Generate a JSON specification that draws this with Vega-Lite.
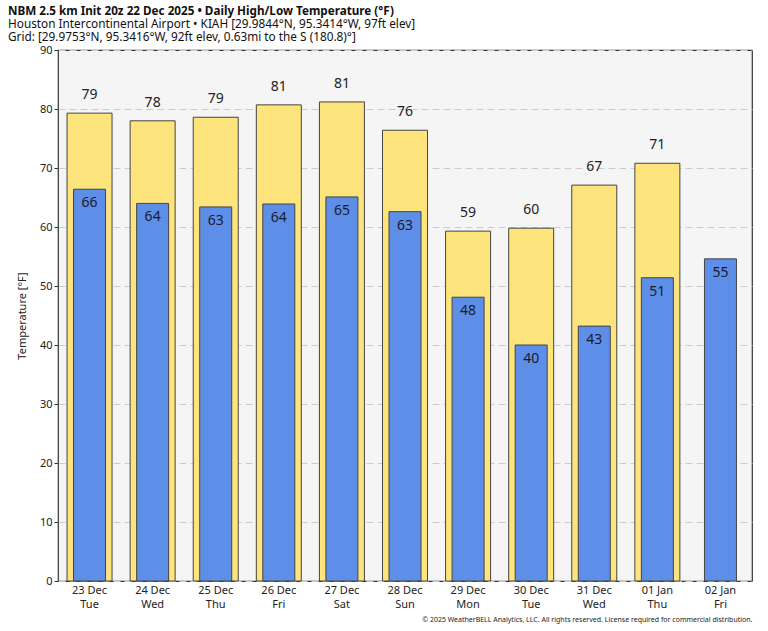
{
  "$schema": "https://vega.github.io/schema/vega-lite/v6.json",
  "width": 694,
  "height": 531,
  "autosize": {"type": "none"},
  "padding": {"left": 58, "top": 50, "right": 16, "bottom": 50},
  "background": "white",
  "config": {
    "font": "Noto Sans",
    "view": {"fill": "#f5f5f5", "stroke": "#333333", "strokeWidth": 1.2}
  },
  "title": {
    "text": "NBM 2.5 km Init 20z 22 Dec 2025 • Daily High/Low Temperature (°F)",
    "subtitle": ["Houston Intercontinental Airport • KIAH [29.9844°N, 95.3414°W, 97ft elev]", "Grid: [29.9753°N, 95.3416°W, 92ft elev, 0.63mi to the S (180.8)°]"],
    "anchor": "start",
    "frame": "group",
    "dx": -50,
    "offset": 0,
    "fontSize": 11.7,
    "lineHeight": 12.5,
    "fontWeight": "bold",
    "color": "#111111",
    "subtitleFontSize": 11.8,
    "subtitleColor": "#111111",
    "subtitlePadding": 1.5,
    "subtitleLineHeight": 13.5
  },
  "data": {
    "values": [
      {"d": "23 Dec|Tue", "high": 79.3, "low": 66.4},
      {"d": "24 Dec|Wed", "high": 78.0, "low": 64.0},
      {"d": "25 Dec|Thu", "high": 78.6, "low": 63.4},
      {"d": "26 Dec|Fri", "high": 80.7, "low": 63.9},
      {"d": "27 Dec|Sat", "high": 81.2, "low": 65.1},
      {"d": "28 Dec|Sun", "high": 76.4, "low": 62.6},
      {"d": "29 Dec|Mon", "high": 59.3, "low": 48.1},
      {"d": "30 Dec|Tue", "high": 59.8, "low": 40.0},
      {"d": "31 Dec|Wed", "high": 67.1, "low": 43.2},
      {"d": "01 Jan|Thu", "high": 70.8, "low": 51.4},
      {"d": "02 Jan|Fri", "high": null, "low": 54.6}
    ]
  },
  "encoding": {
    "x": {
      "field": "d",
      "type": "nominal",
      "sort": null,
      "scale": {"paddingInner": 0, "paddingOuter": 0},
      "axis": {
        "title": "© 2025 WeatherBELL Analytics, LLC. All rights reserved. License required for commercial distribution.",
        "titleAnchor": "end",
        "titleFontSize": 7,
        "titleFontWeight": "normal",
        "titleColor": "#222222",
        "titlePadding": 6,
        "labelExpr": "split(datum.label, '|')",
        "labelAngle": 0,
        "labelFontSize": 11,
        "labelColor": "#222222",
        "labelLineHeight": 14,
        "labelPadding": 3,
        "ticks": false,
        "domain": false,
        "grid": false
      }
    }
  },
  "layer": [
    {
      "transform": [{"filter": "datum.high != null"}],
      "mark": {"type": "bar", "size": 45, "color": "#fee47c", "stroke": "#444444", "strokeWidth": 1},
      "encoding": {
        "y": {
          "field": "high",
          "type": "quantitative",
          "scale": {"domain": [0, 90], "nice": false},
          "axis": {
            "title": "Temperature [°F]",
            "titleFontSize": 11,
            "titleFontWeight": "normal",
            "titleColor": "#222222",
            "titlePadding": 12,
            "values": [0, 10, 20, 30, 40, 50, 60, 70, 80, 90],
            "labelFontSize": 11,
            "labelColor": "#222222",
            "labelPadding": 2,
            "tickSize": 4,
            "tickColor": "#333333",
            "domain": false,
            "grid": true,
            "gridColor": "#cccccc",
            "gridDash": [7, 4],
            "gridWidth": 1
          }
        }
      }
    },
    {
      "mark": {"type": "bar", "size": 32, "color": "#5e8fe8", "stroke": "#444444", "strokeWidth": 1},
      "encoding": {
        "y": {"field": "low", "type": "quantitative"}
      }
    },
    {
      "transform": [{"filter": "datum.high != null"}],
      "mark": {"type": "text", "fontSize": 14, "color": "#222222", "baseline": "middle", "dy": -18},
      "encoding": {
        "y": {"field": "high", "type": "quantitative"},
        "text": {"field": "high", "type": "quantitative", "format": ".0f"}
      }
    },
    {
      "mark": {"type": "text", "fontSize": 14, "color": "#1a1a2e", "baseline": "middle", "dy": 14},
      "encoding": {
        "y": {"field": "low", "type": "quantitative"},
        "text": {"field": "low", "type": "quantitative", "format": ".0f"}
      }
    }
  ]
}
